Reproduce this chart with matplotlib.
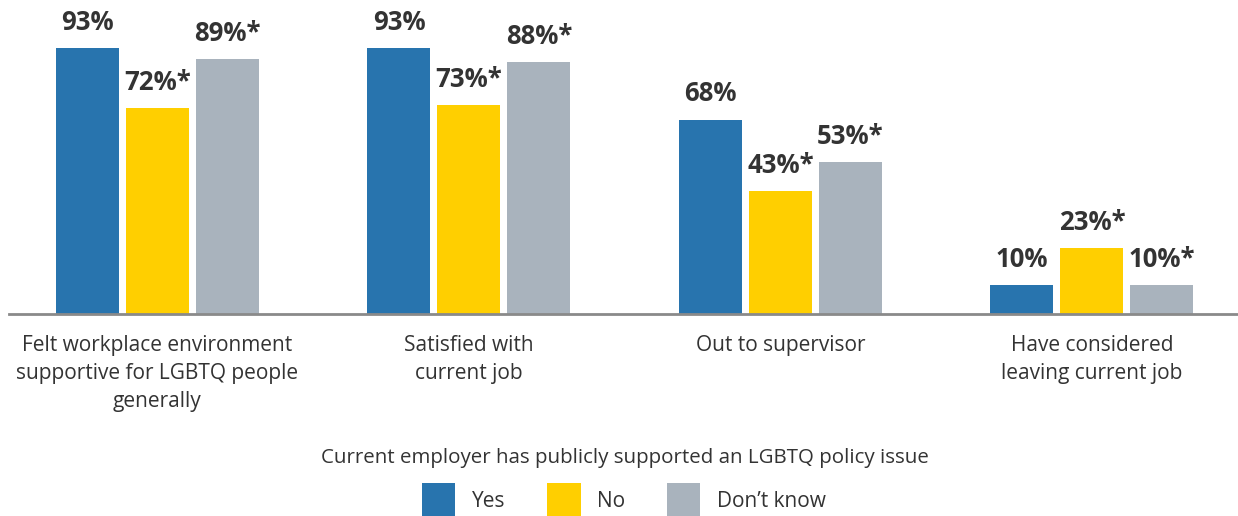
import numpy as np
import matplotlib
matplotlib.use('Agg')
import matplotlib.pyplot as plt
from matplotlib.patches import Patch

plt.rcParams['font.family'] = ['Open Sans', 'DejaVu Sans']

# Survey results, percent of respondents
categories = ['Felt workplace environment\nsupportive for LGBTQ people\ngenerally',
              'Satisfied with\ncurrent job',
              'Out to supervisor',
              'Have considered\nleaving current job']
seriesNames = ['Yes', 'No', 'Don\u2019t know']
yesValues = [93, 93, 68, 10]
noValues = [72, 73, 43, 23]
dontKnowValues = [89, 88, 53, 10]
# an asterisk marks a significant difference from "Yes"
significant = [False, True, True]
legendTitle = 'Current employer has publicly supported an LGBTQ policy issue'

colors = ['#2874ae', '#ffcf00', '#a9b3bd']
textColor = '#333333'


def main():
    fig = plt.figure(figsize=(12.38, 5.16), dpi=100)
    ax = fig.add_axes([9 / 1238, 202 / 516, 1229 / 1238, 314 / 516])

    x = np.arange(len(categories))
    barWidth = 63 / 311.5
    step = 70 / 311.5
    allSeries = [yesValues, noValues, dontKnowValues]
    for i, values in enumerate(allSeries):
        bars = ax.bar(x + (i - 1) * step, values, width=barWidth,
                      color=colors[i], label=seriesNames[i])
        suffix = '*' if significant[i] else ''
        labels = ['{}%{}'.format(v, suffix) for v in values]
        ax.bar_label(bars, labels=labels, padding=9, fontsize=18.5,
                     fontweight='bold', color=textColor)

    ax.set_xlim(-0.4767, 3.4687)
    ax.set_ylim(0, 314 / 2.86)

    for side in ['top', 'right', 'left']:
        ax.spines[side].set_visible(False)
    ax.spines['bottom'].set_color('#8a8a8a')
    ax.spines['bottom'].set_linewidth(2)
    ax.set_yticks([])
    ax.set_xticks(x)
    ax.set_xticklabels(categories, fontsize=15, color=textColor, linespacing=1.45)
    ax.tick_params(axis='x', length=0, pad=15)

    fig.text(0.5 + 6 / 1238, 1 - 458 / 516, legendTitle, ha='center', va='center',
             fontsize=14.75, color=textColor)
    handles = [Patch(facecolor=c, edgecolor='none') for c in colors]
    fig.legend(handles, seriesNames, loc='center', bbox_to_anchor=(0.5 + 5 / 1238, 1 - 500 / 516),
               ncol=3, frameon=False, fontsize=15, labelcolor=textColor,
               handlelength=1.6, handleheight=2.1, handletextpad=0.8,
               columnspacing=2.0)

    fig.savefig('out.png', dpi=100)


if __name__ == '__main__':
    main()
